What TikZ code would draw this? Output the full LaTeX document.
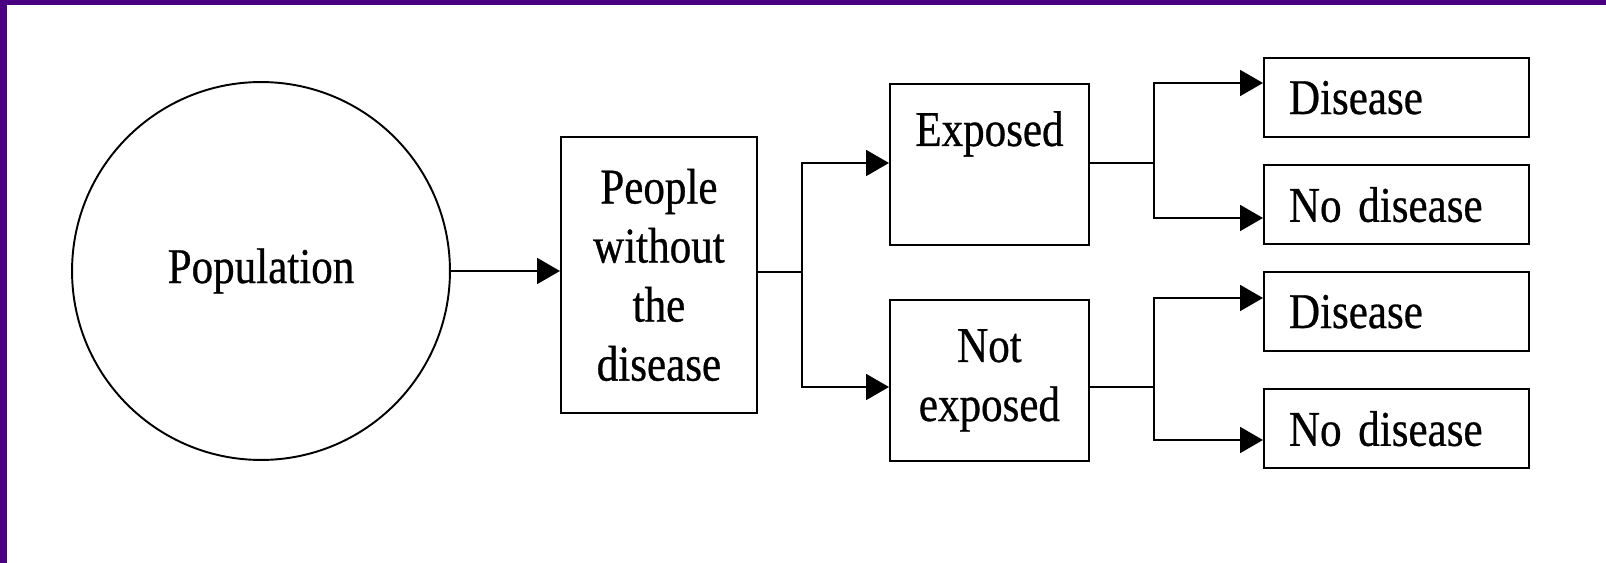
\documentclass[tikz,border=0pt]{standalone}
\usepackage{fontspec}
\newfontfamily\boxfont{Liberation Serif}[FakeStretch=0.86, FakeBold=0.6]
\newcommand\boxtype{\boxfont\fontsize{28.5}{33.6}\selectfont\spaceskip=0.12em plus 0pt\relax}
\usepackage{tikz}
\usetikzlibrary{arrows.meta}
\definecolor{framepurple}{HTML}{4B0082}

\begin{document}
\begin{tikzpicture}[x=0.02cm, y=-0.02cm, line width=1.1pt,
  box/.style={draw, rectangle, inner sep=0pt, anchor=north west, align=center, font=\boxtype},
  midbox/.style={box, minimum width=3.98cm, minimum height=3.22cm},
  endbox/.style={box, minimum width=5.3cm, minimum height=1.59cm, text width=4.3cm, align=left},
  arr/.style={-{Triangle[length=4.6mm,width=5.2mm]}}]% [scale=0.8]
\useasboundingbox (0,0) rectangle (1606,563);
\fill[white] (0,0) rectangle (1606,563);
\fill[framepurple] (0,0) rectangle (1606,5);
\fill[framepurple] (0,0) rectangle (7,563);

\node[circle, draw, minimum size=7.56cm, inner sep=0pt, font=\boxtype] (pop) at (261,271) {Population};
\node[box, minimum width=3.92cm, minimum height=5.52cm] (people) at (560,136) {People\\without\\the\\disease};

\node[box, minimum width=3.98cm, text height=1.24cm, text depth=1.98cm] (expo) at (889,83) {Exposed};
\node[midbox] (notexp) at (889,299) {Not\\exposed};

\node[endbox] (dis1) at (1263,57) {Disease};
\node[endbox] (nodis1) at (1263,164) {No disease};
\node[endbox] (dis2) at (1263,271) {Disease};
\node[endbox] (nodis2) at (1263,388) {No disease};

\coordinate (fork0) at (802,272);
\coordinate (fork1) at (1154,163);
\coordinate (fork2) at (1154,387);

\draw[arr] (pop.east) -- (pop.east -| people.west);
\draw (people.east |- fork0) -- (fork0);
\draw[arr] (fork0) |- (expo.west |- fork1);
\draw[arr] (fork0) |- (notexp.west |- fork2);

\draw (expo.east |- fork1) -- (fork1);
\draw (notexp.east |- fork2) -- (fork2);
\draw[arr] (fork1) |- (dis1.west |- 0,83);
\draw[arr] (fork1) |- (nodis1.west |- 0,218);
\draw[arr] (fork2) |- (dis2.west |- 0,298);
\draw[arr] (fork2) |- (nodis2.west |- 0,440);
\end{tikzpicture}
\end{document}
